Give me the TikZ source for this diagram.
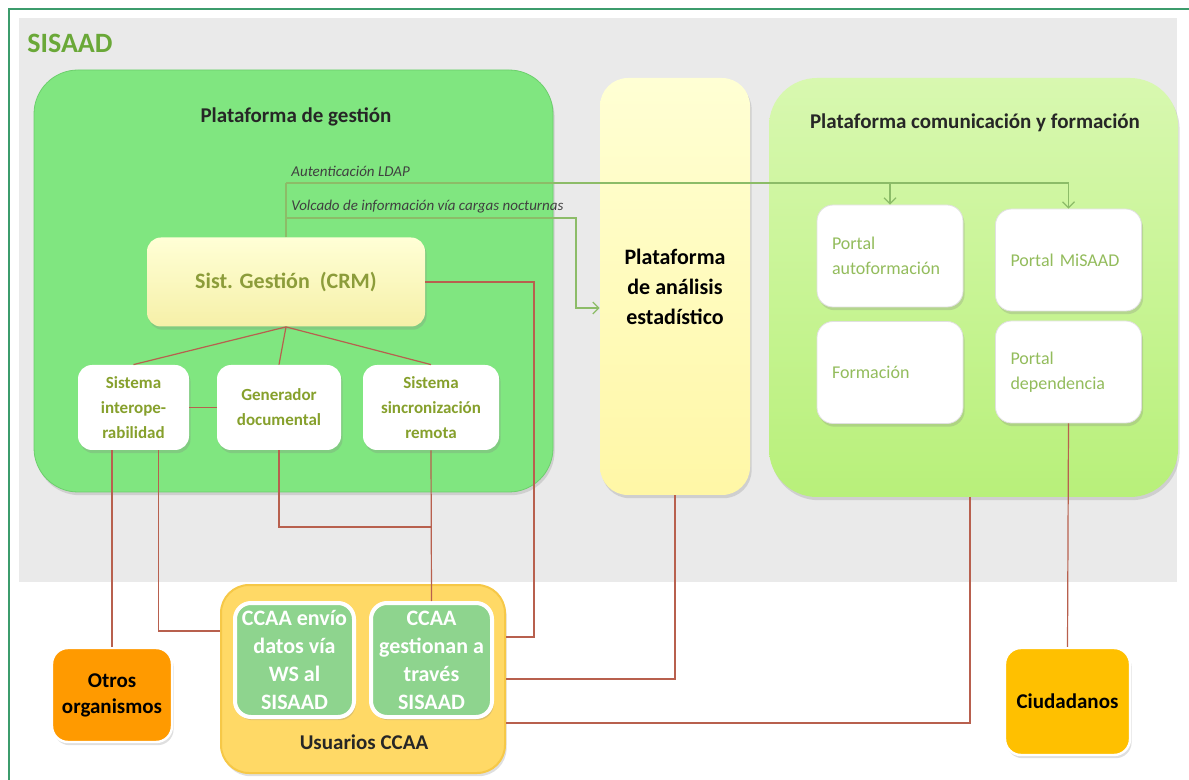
\documentclass[tikz,border=0pt]{standalone}
\usepackage{fontspec}
\setmainfont{Carlito}
\usetikzlibrary{arrows.meta,shadows}

\definecolor{bandgray}{HTML}{EAEAEA}
\definecolor{framegreen}{HTML}{3C9C6C}
\definecolor{titlegreen}{HTML}{6AA838}
\definecolor{gestgreen}{HTML}{80E680}
\definecolor{gestedge}{HTML}{6CCF6C}
\definecolor{crmtop}{HTML}{FFFFD6}
\definecolor{crmbottom}{HTML}{F6F0A8}
\definecolor{crmtext}{HTML}{8C9C3A}
\definecolor{olivetext}{HTML}{86A02C}
\definecolor{portaltext}{HTML}{93BC5C}
\definecolor{anatop}{HTML}{FFFFD4}
\definecolor{anabottom}{HTML}{FFF7A6}
\definecolor{comtop}{HTML}{D8F8B0}
\definecolor{combottom}{HTML}{B8F07A}
\definecolor{userfill}{HTML}{FFD966}
\definecolor{useredge}{HTML}{F6C847}
\definecolor{ccaagreen}{HTML}{8ED48E}
\definecolor{otrosfill}{HTML}{FF9A00}
\definecolor{ciudfill}{HTML}{FFC000}
\definecolor{linkred}{HTML}{B8604E}
\definecolor{feedgreen}{HTML}{8CBC68}

\tikzset{
  every node/.style={inner sep=0pt},
  softshadow/.style={drop shadow={opacity=0.25,shadow xshift=0.8pt,shadow yshift=-1.6pt}},
  titletext/.style={font=\fontsize{10.5}{13}\selectfont\bfseries,text=black!85},
  notelabel/.style={font=\fontsize{7.5}{9}\selectfont\itshape,text=black!75,anchor=west},
  subbox/.style={fill=white,rounded corners=7pt,align=center,text=olivetext,
    minimum height=42.5pt,font=\fontsize{8.5}{12.5}\selectfont\bfseries,softshadow},
  portalbox/.style={fill=white,draw=black!12,rounded corners=8pt,align=left,text=portaltext,
    minimum width=73pt,minimum height=51pt,text width=58pt,font=\fontsize{9}{12.5}\selectfont,softshadow},
  ccaabox/.style={fill=ccaagreen,draw=white,line width=2pt,rounded corners=8pt,align=center,
    text=white,minimum height=57pt,font=\fontsize{11}{14}\selectfont\bfseries,softshadow},
  actorbox/.style={draw=white,line width=1.2pt,rounded corners=8pt,align=center,text=black,
    font=\fontsize{10.5}{13}\selectfont\bfseries,softshadow},
  link/.style={draw=linkred,line width=0.6pt},
  feed/.style={draw=feedgreen,line width=0.6pt,-{Straight Barb[length=3pt,width=6pt]}}
}

\begin{document}
\begin{tikzpicture}[x=0.5pt,y=-0.5pt]
  \useasboundingbox (0,0) rectangle (1189,780);
  \fill[white] (0,0) rectangle (1189,780);
  \fill[bandgray] (19,18) rectangle (1177,582);
  \draw[framegreen,line width=0.8pt] (9,780) -- (9,9) -- (1189,9);
  \node[font=\fontsize{14}{16}\selectfont\bfseries,text=titlegreen,anchor=west] (sisaad) at (27,43) {SISAAD};

  % plataforma de gestion
  \node[fill=gestgreen,draw=gestedge,rounded corners=22pt,softshadow,
    minimum width=259.5pt,minimum height=211pt] (gestion) at (293.5,281) {};
  \node[titletext] (gesttitle) at (296,117) {Plataforma de gestión};
  \node[top color=crmtop,bottom color=crmbottom,rounded corners=7pt,softshadow,text=crmtext,
    minimum width=139pt,minimum height=44.5pt,font=\fontsize{11}{13}\selectfont\bfseries] (crm) at (286,282) {Sist. Gestión~~(CRM)};
  \node[subbox,minimum width=55.5pt] (interop) at (133.5,407.5) {Sistema\\interope-\\rabilidad};
  \node[subbox,minimum width=62pt] (gen) at (279,407.5) {Generador\\documental};
  \node[subbox,minimum width=68pt] (sinc) at (431,407.5) {Sistema\\sincronización\\remota};

  % plataforma de analisis
  \node[top color=anatop,bottom color=anabottom,rounded corners=14pt,softshadow,align=center,
    minimum width=75pt,minimum height=208.5pt,font=\fontsize{11}{15}\selectfont\bfseries] (analisis) at (675,286.5) {Plataforma\\de análisis\\estadístico};

  % plataforma de comunicacion
  \node[top color=comtop,bottom color=combottom,rounded corners=24pt,softshadow,
    minimum width=204.5pt,minimum height=209.5pt] (comun) at (973.5,287.5) {};
  \node[titletext] (comtitle) at (975,123) {Plataforma comunicación y formación};
  \node[portalbox] (pauto) at (890,256) {Portal\\autoformación};
  \node[portalbox] (pmisaad) at (1068.5,260) {Portal MiSAAD};
  \node[portalbox] (pform) at (890,372.5) {Formación};
  \node[portalbox] (pdep) at (1068.5,372) {Portal\\dependencia};

  % usuarios
  \node[fill=userfill,draw=useredge,line width=1pt,rounded corners=14pt,softshadow,
    minimum width=142pt,minimum height=94pt] (usuarios) at (363,679) {};
  \node[ccaabox,minimum width=59.5pt] (envio) at (294.5,660) {CCAA envío\\datos vía\\WS al\\SISAAD};
  \node[ccaabox,minimum width=60.5pt] (gestionan) at (431.5,660) {CCAA\\gestionan a\\través\\SISAAD};
  \node[titletext] (userlbl) at (364,742) {Usuarios CCAA};

  \node[actorbox,fill=otrosfill,minimum width=60pt,minimum height=47pt] (otros) at (112,695) {Otros\\organismos};
  \node[actorbox,fill=ciudfill,minimum width=62.5pt,minimum height=53.5pt] (ciudadanos) at (1067.5,701.5) {Ciudadanos};

  % flujos de datos
  \coordinate (ldap) at (286,183);
  \coordinate (volcturn) at (576,308);
  \node[notelabel] (ldaplbl) at (291,171) {Autenticación LDAP};
  \node[notelabel] (volclbl) at (291,207) {Volcado de información vía cargas nocturnas};
  \draw[feedgreen,line width=0.6pt] (crm.north) -- (ldap);
  \draw[feed] (ldap) -| (pmisaad.north);
  \draw[feed] (ldap -| pauto.north) -- (pauto.north);
  \draw[feed] (286,218) -| (volcturn) -- (volcturn -| analisis.west);

  % conexiones
  \draw[link] (crm.south) -- (interop.north);
  \draw[link] (crm.south) -- (gen.north);
  \draw[link] (crm.south) -- (sinc.north);
  \draw[link] (interop.east) -- (gen.west);
  \draw[link] (otros.north) -- (otros.north |- interop.south);
  \draw[link] ([xshift=12.5pt]interop.south) |- ([yshift=24pt]usuarios.west);
  \draw[link] (gen.south) |- (sinc.south |- 0,527);
  \draw[link] (sinc.south) -- (gestionan.north);
  \coordinate (crmdrop) at (534,637);
  \draw[link] (crm.east) -| (crmdrop) -- (crmdrop -| usuarios.east);
  \draw[link] (analisis.south) |- (usuarios.east);
  \draw[link] (970,497) |- ([yshift=-22pt]usuarios.east);
  \draw[link] (pdep.south) -- (ciudadanos.north);
\end{tikzpicture}
\end{document}
